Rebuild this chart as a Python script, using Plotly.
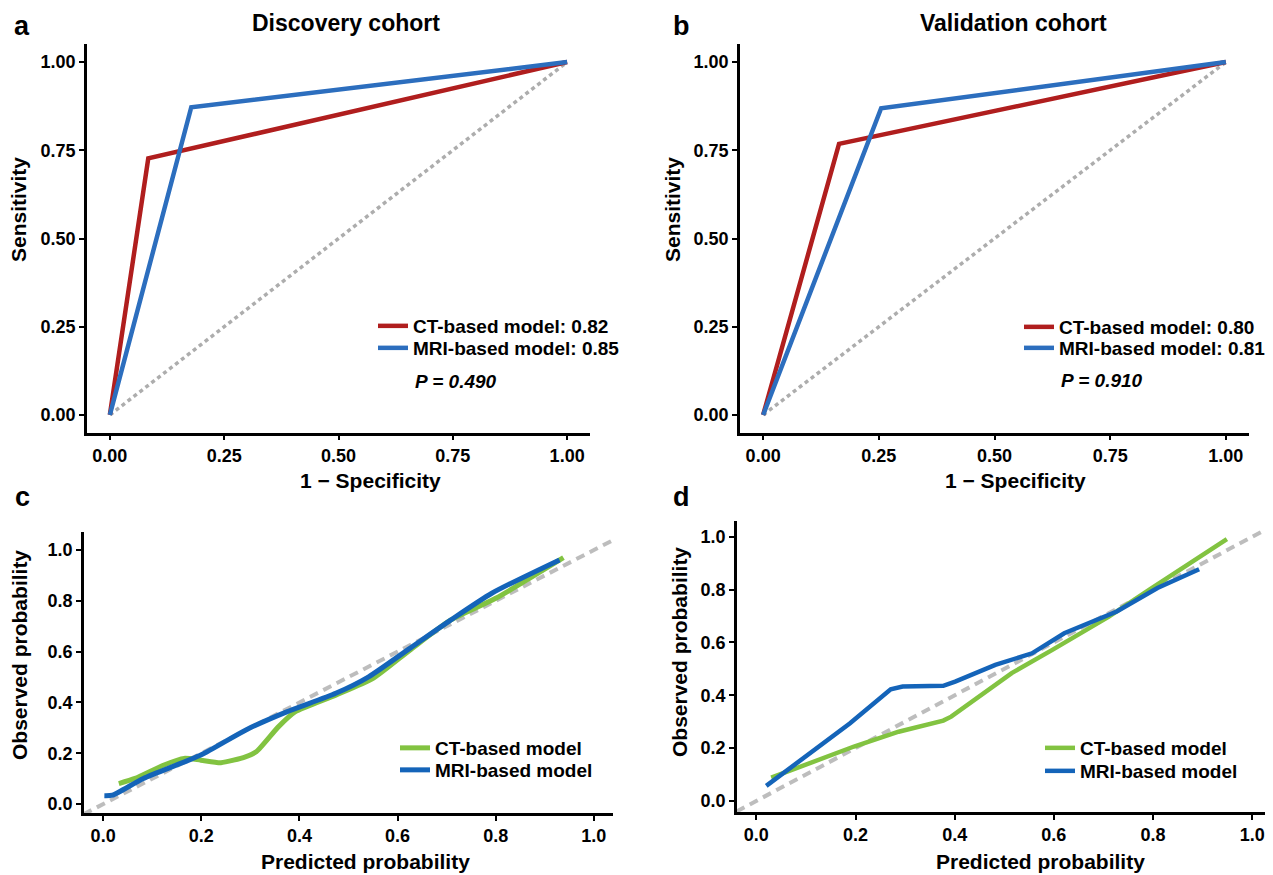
import plotly.graph_objects as go

# ---------------- data ----------------
# ROC curves (1 - specificity, sensitivity)
roc_a_ct_x = [0.0, 0.084, 1.0]
roc_a_ct_y = [0.0, 0.727, 1.0]
roc_a_mri_x = [0.0, 0.178, 1.0]
roc_a_mri_y = [0.0, 0.872, 1.0]

roc_b_ct_x = [0.0, 0.164, 1.0]
roc_b_ct_y = [0.0, 0.768, 1.0]
roc_b_mri_x = [0.0, 0.255, 1.0]
roc_b_mri_y = [0.0, 0.869, 1.0]

diag_x = [0.0, 1.0]
diag_y = [0.0, 1.0]

auc_a = {"CT": "0.82", "MRI": "0.85"}
auc_b = {"CT": "0.80", "MRI": "0.81"}
p_a = "0.490"
p_b = "0.910"

# Calibration curves (predicted, observed)
cal_c_ct_x = [0.032, 0.065, 0.124, 0.165, 0.199, 0.24, 0.29, 0.312, 0.357, 0.391,
              0.474, 0.55, 0.625, 0.708, 0.80, 0.938]
cal_c_ct_y = [0.081, 0.101, 0.154, 0.18, 0.173, 0.163, 0.186, 0.206, 0.304, 0.363,
              0.429, 0.495, 0.606, 0.724, 0.81, 0.97]
cal_c_mri_x = [0.0025, 0.019, 0.082, 0.199, 0.29, 0.374, 0.474, 0.541, 0.625, 0.708,
               0.792, 0.93]
cal_c_mri_y = [0.033, 0.035, 0.101, 0.193, 0.291, 0.363, 0.436, 0.501, 0.613, 0.724,
               0.83, 0.961]

cal_d_ct_x = [0.03, 0.197, 0.287, 0.377, 0.393, 0.515, 0.597, 0.711, 0.792, 0.949]
cal_d_ct_y = [0.088, 0.206, 0.262, 0.304, 0.319, 0.484, 0.572, 0.698, 0.799, 0.991]
cal_d_mri_x = [0.02, 0.189, 0.271, 0.295, 0.377, 0.401, 0.482, 0.556, 0.621, 0.727,
               0.809, 0.893]
cal_d_mri_y = [0.057, 0.294, 0.423, 0.433, 0.436, 0.452, 0.515, 0.559, 0.635, 0.717,
               0.806, 0.877]

ref_c_x = [-0.04, 1.035]
ref_c_y = [-0.04, 1.035]
ref_d_x = [-0.04, 1.04]
ref_d_y = [-0.04, 1.04]

roc_ticks = [0, 0.25, 0.5, 0.75, 1.0]
cal_ticks = [0, 0.2, 0.4, 0.6, 0.8, 1.0]

# ---------------- style ----------------
# the page body has an 8px margin, so the figure is drawn 8px smaller
OFF = 8
W, H = 1273 - OFF, 875 - OFF
FONT = "Liberation Sans, Arial, sans-serif"
RED = "#B01E1E"
BLUE_ROC = "#2C6EBE"
GREEN = "#82C341"
BLUE_CAL = "#1464B9"
GRAY_DOT = "#ADADAD"
GRAY_DASH = "#BDBDBD"


def px(x):
    return (x - OFF) / W


def py(y):
    return 1 - (y - OFF) / H


fig = go.Figure()

# panel a
fig.add_trace(go.Scatter(x=diag_x, y=diag_y, mode="lines", xaxis="x", yaxis="y",
                         line=dict(color=GRAY_DOT, width=3.5, dash="4px,3.5px"),
                         showlegend=False, hoverinfo="skip"))
fig.add_trace(go.Scatter(x=roc_a_ct_x, y=roc_a_ct_y, mode="lines", xaxis="x", yaxis="y",
                         line=dict(color=RED, width=4.5),
                         name="CT-based model: " + auc_a["CT"], legend="legend"))
fig.add_trace(go.Scatter(x=roc_a_mri_x, y=roc_a_mri_y, mode="lines", xaxis="x", yaxis="y",
                         line=dict(color=BLUE_ROC, width=4.5),
                         name="MRI-based model: " + auc_a["MRI"], legend="legend5"))
# panel b
fig.add_trace(go.Scatter(x=diag_x, y=diag_y, mode="lines", xaxis="x2", yaxis="y2",
                         line=dict(color=GRAY_DOT, width=3.5, dash="4px,3.5px"),
                         showlegend=False, hoverinfo="skip"))
fig.add_trace(go.Scatter(x=roc_b_ct_x, y=roc_b_ct_y, mode="lines", xaxis="x2", yaxis="y2",
                         line=dict(color=RED, width=4.5),
                         name="CT-based model: " + auc_b["CT"], legend="legend2"))
fig.add_trace(go.Scatter(x=roc_b_mri_x, y=roc_b_mri_y, mode="lines", xaxis="x2", yaxis="y2",
                         line=dict(color=BLUE_ROC, width=4.5),
                         name="MRI-based model: " + auc_b["MRI"], legend="legend6"))
# panel c
fig.add_trace(go.Scatter(x=ref_c_x, y=ref_c_y, mode="lines", xaxis="x3", yaxis="y3",
                         line=dict(color=GRAY_DASH, width=4, dash="9px,6px"),
                         showlegend=False, hoverinfo="skip"))
fig.add_trace(go.Scatter(x=cal_c_ct_x, y=cal_c_ct_y, mode="lines", xaxis="x3", yaxis="y3",
                         line=dict(color=GREEN, width=5, shape="spline", smoothing=0.6),
                         name="CT-based model", legend="legend3"))
fig.add_trace(go.Scatter(x=cal_c_mri_x, y=cal_c_mri_y, mode="lines", xaxis="x3", yaxis="y3",
                         line=dict(color=BLUE_CAL, width=5, shape="spline", smoothing=0.6),
                         name="MRI-based model", legend="legend7"))
# panel d
fig.add_trace(go.Scatter(x=ref_d_x, y=ref_d_y, mode="lines", xaxis="x4", yaxis="y4",
                         line=dict(color=GRAY_DASH, width=4, dash="9px,6px"),
                         showlegend=False, hoverinfo="skip"))
fig.add_trace(go.Scatter(x=cal_d_ct_x, y=cal_d_ct_y, mode="lines", xaxis="x4", yaxis="y4",
                         line=dict(color=GREEN, width=4.5),
                         name="CT-based model", legend="legend4"))
fig.add_trace(go.Scatter(x=cal_d_mri_x, y=cal_d_mri_y, mode="lines", xaxis="x4", yaxis="y4",
                         line=dict(color=BLUE_CAL, width=4.5),
                         name="MRI-based model", legend="legend8"))

tickfont = dict(family=FONT, size=18, color="black", weight="bold")


def axis(domain, rng, ticks, fmt, anchor):
    return dict(domain=domain, range=rng, tickvals=ticks, tickformat=fmt,
                showline=True, linecolor="black", linewidth=2.5,
                ticks="outside", ticklen=5, tickwidth=2, tickcolor="black",
                showgrid=False, zeroline=False, tickfont=tickfont,
                anchor=anchor, fixedrange=True)


legfont = dict(family=FONT, size=19, color="black", weight="bold")


def legend(x_text, y_row):
    return dict(x=px(x_text - 40), y=py(y_row), xanchor="left", yanchor="middle",
                bgcolor="rgba(0,0,0,0)", borderwidth=0, font=legfont,
                itemclick=False, itemdoubleclick=False)


fig.update_layout(
    width=W, height=H,
    margin=dict(l=0, r=0, t=0, b=0),
    paper_bgcolor="white", plot_bgcolor="white",
    xaxis=axis([px(87), px(590)], [-0.05, 1.05], roc_ticks, ".2f", "y"),
    yaxis=axis([py(432.6), py(44.4)], [-0.05, 1.05], roc_ticks, ".2f", "x"),
    xaxis2=axis([px(740), px(1249)], [-0.05, 1.05], roc_ticks, ".2f", "y2"),
    yaxis2=axis([py(432.6), py(44.4)], [-0.05, 1.05], roc_ticks, ".2f", "x2"),
    xaxis3=axis([px(84), px(613)], [-0.039, 1.039], cal_ticks, ".1f", "y3"),
    yaxis3=axis([py(813), py(532)], [-0.035, 1.071], cal_ticks, ".1f", "x3"),
    xaxis4=axis([px(737), px(1271)], [-0.039, 1.038], cal_ticks, ".1f", "y4"),
    yaxis4=axis([py(812), py(521)], [-0.042, 1.06], cal_ticks, ".1f", "x4"),
    legend=legend(413, 326),
    legend5=legend(413, 348),
    legend2=legend(1059, 327),
    legend6=legend(1059, 348),
    legend3=legend(435, 748),
    legend7=legend(435, 770),
    legend4=legend(1080, 748),
    legend8=legend(1080, 771),
)


def ann(text, x, y, size, xanchor="center", yanchor="middle", angle=0, italic=False):
    fig.add_annotation(text=text, x=px(x), y=py(y), xref="paper", yref="paper",
                       xanchor=xanchor, yanchor=yanchor, showarrow=False,
                       textangle=angle,
                       font=dict(family=FONT, size=size, color="black", weight="bold",
                                 style="italic" if italic else "normal"))


# panel letters
ann("a", 22, OFF + 1, 27, yanchor="top")
ann("b", 681, OFF + 1, 27, yanchor="top")
ann("c", 22, 497, 27)
ann("d", 681, 497, 27)
# titles
ann("Discovery cohort", 346, 23, 23)
ann("Validation cohort", 1013, 23, 23)
# axis titles
ann("1 − Specificity", 370, 480, 21)
ann("1 − Specificity", 1016, 480, 21)
ann("Sensitivity", 19, 210, 21, angle=-90)
ann("Sensitivity", 673, 210, 21, angle=-90)
ann("Predicted probability", 366, 861, 21)
ann("Predicted probability", 1040, 861, 21)
ann("Observed probability", 19, 655, 21, angle=-90)
ann("Observed probability", 679, 652, 21, angle=-90)
# P values
ann("P = " + p_a, 413, 381, 19, xanchor="left", italic=True)
ann("P = " + p_b, 1059, 380, 19, xanchor="left", italic=True)

fig.write_html("out.html")
